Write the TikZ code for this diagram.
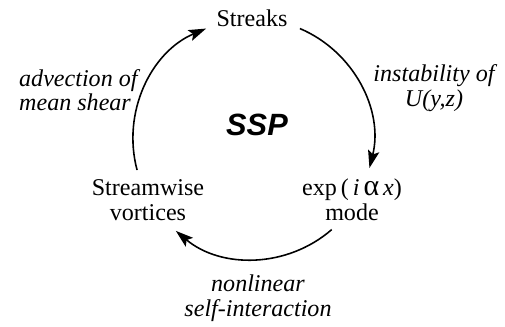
\documentclass[tikz,border=0pt]{standalone}
\usepackage{fontspec}
\setmainfont{Liberation Serif}
\newfontfamily\ssplabel{Liberation Sans}
\usetikzlibrary{arrows.meta}
\tikzset{>={Stealth[length=10pt,width=6.5pt,inset=2pt]}}

\begin{document}
\begin{tikzpicture}[x=0.02cm,y=0.02cm,
    stage/.style={align=center,font=\fontsize{13.7}{14}\selectfont},
    proc/.style={align=center,font=\fontsize{13.7}{14}\selectfont\itshape},
    cyc/.style={->,line width=0.9pt}]
  \useasboundingbox (0,0) rectangle (505,326);
  \coordinate (ctr) at (253,187);

  \node[stage](streaks) at (252,308) {Streaks};
  \node[stage](vortices) at (148,126) {Streamwise\\vortices};
  \node[stage](mode) at (352,126) {exp\,(\,\textit{i}\,{\fontsize{17}{14}\selectfont α}\,\textit{x})\\mode};
  \node[font=\ssplabel\fontsize{17.5}{20}\selectfont\bfseries\itshape](ssp) at (257,201) {SSP};

  \node[proc,align=left,anchor=west](advection) at (13,236) {advection of\\mean shear};
  \node[proc](instability) at (434,238) {instability of\\\textit{U}(\textit{y},\textit{z})};
  \node[proc](nonlinear) at (258,28) {nonlinear\\self-interaction};

  % the cycle, clockwise round the centre
  \draw[cyc] ([shift={(67:120)}]ctr) arc[start angle=67,end angle=-14,radius=120];
  \draw[cyc] ([shift={(-49:120)}]ctr) arc[start angle=-49,end angle=-130,radius=120];
  \draw[cyc] ([shift={(195:120)}]ctr) arc[start angle=195,end angle=113,radius=120];
\end{tikzpicture}
\end{document}
